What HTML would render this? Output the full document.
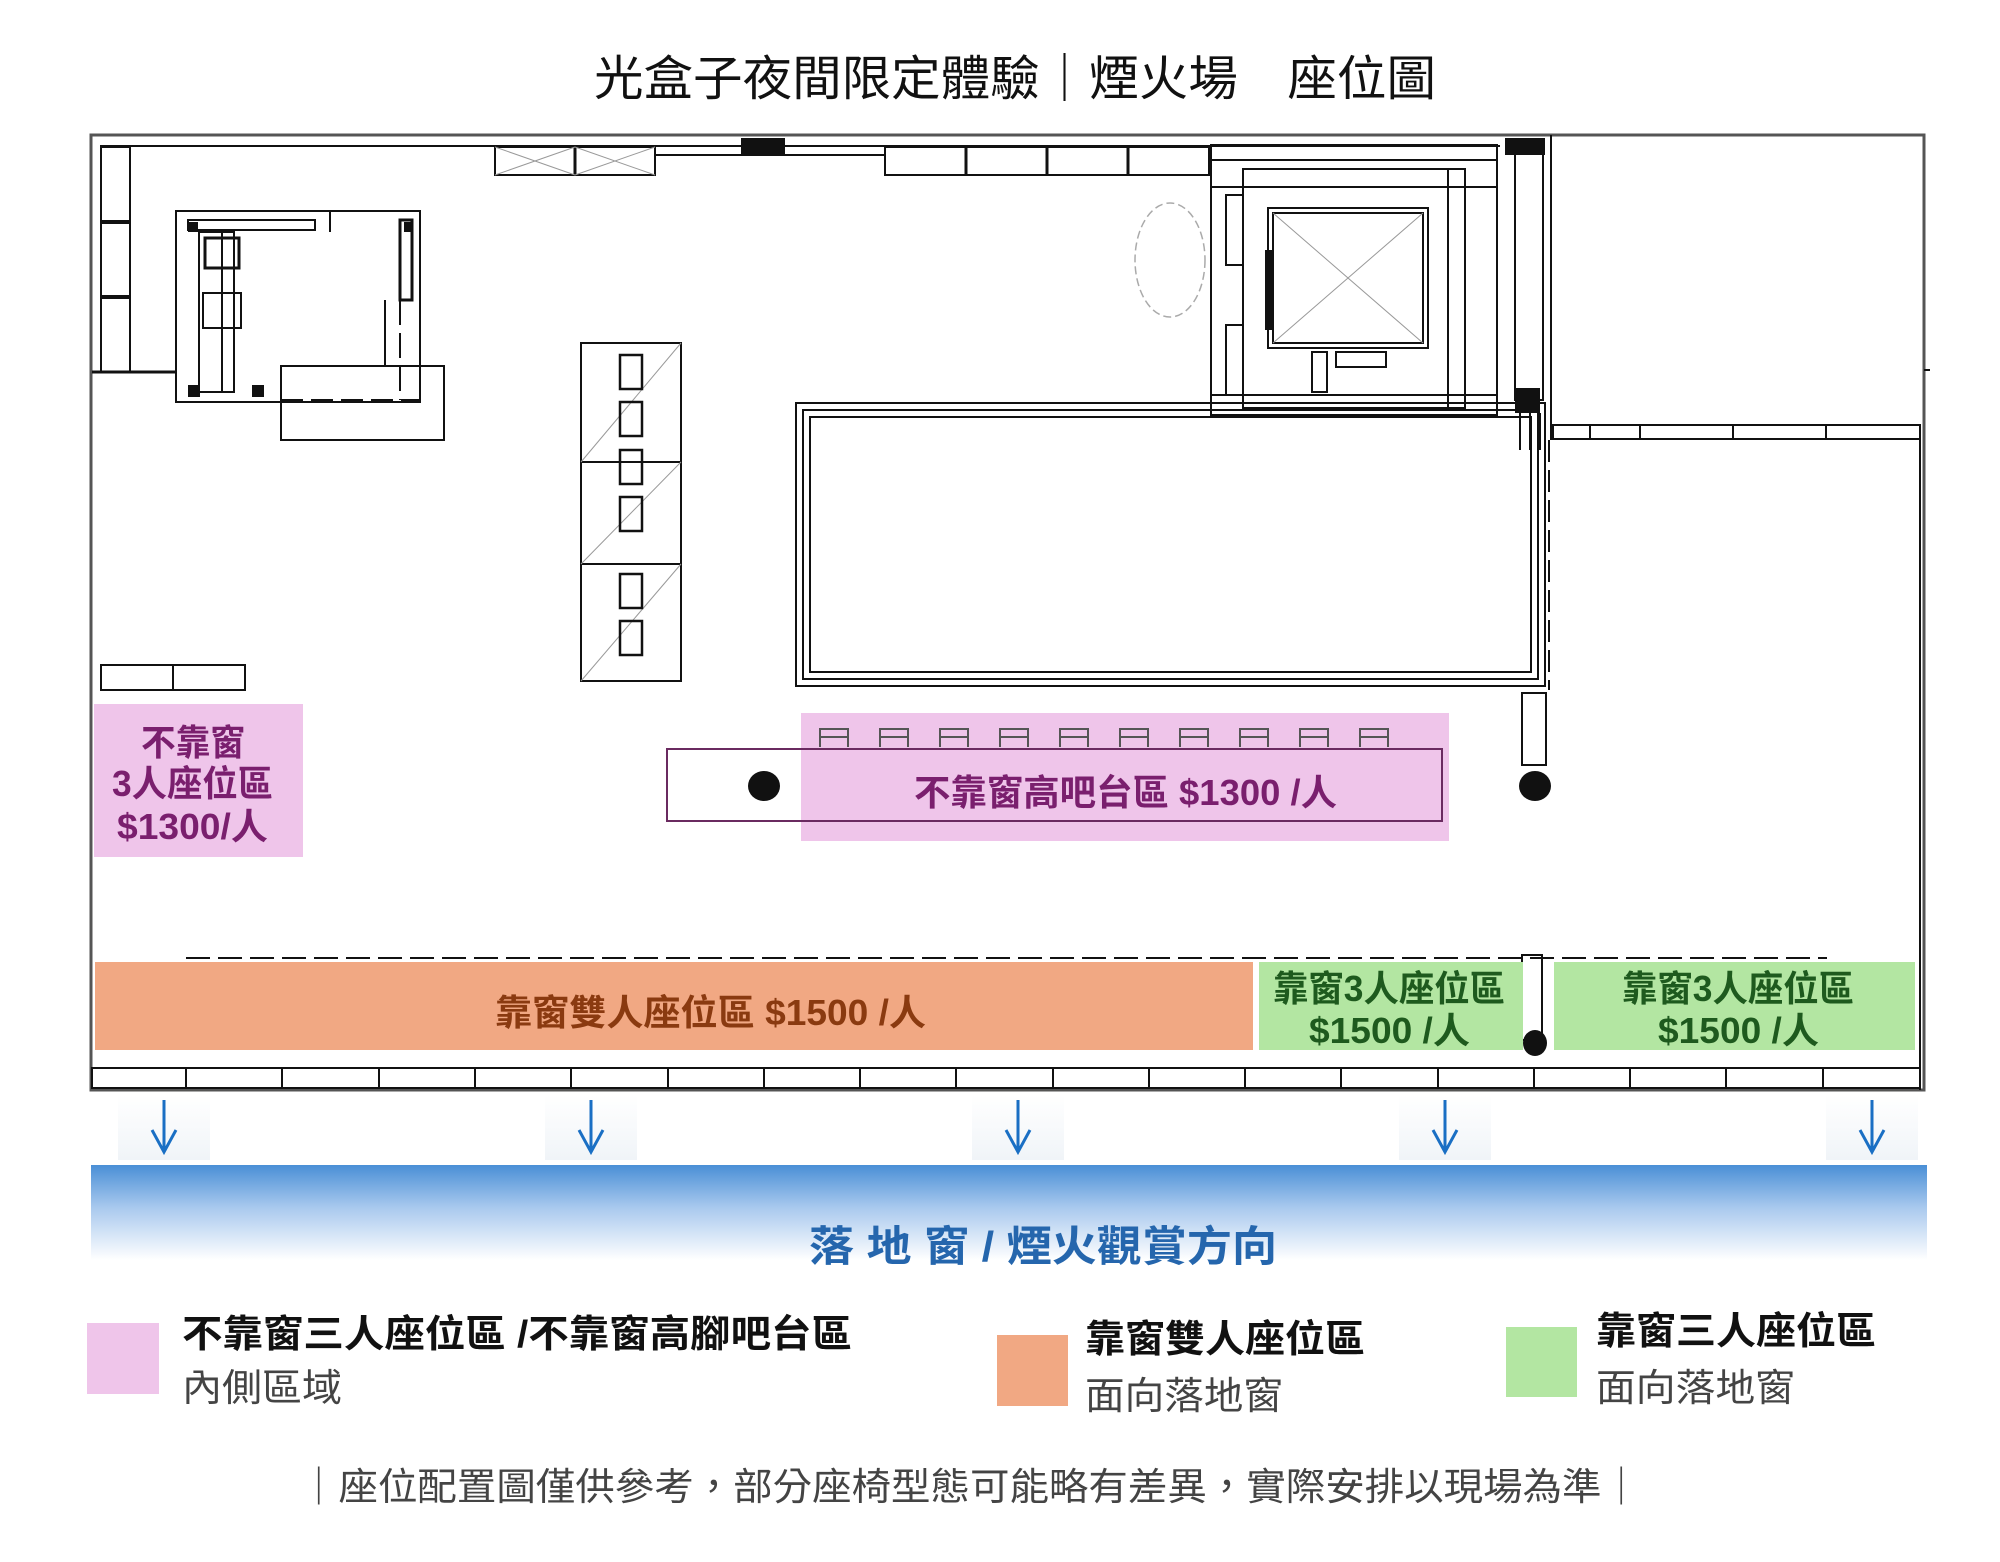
<!DOCTYPE html>
<html><head><meta charset="utf-8"><style>
html,body{margin:0;padding:0;background:#fff;}
svg{display:block}
text{font-family:"Liberation Sans","Noto Sans CJK TC",sans-serif;}
</style></head><body>
<svg width="2000" height="1562" viewBox="0 0 2000 1562" xmlns="http://www.w3.org/2000/svg">
<defs>
<linearGradient id="bg" x1="0" y1="0" x2="0" y2="1">
<stop offset="0" stop-color="#4a8fd6"/><stop offset="0.45" stop-color="#a9c9ee"/><stop offset="1" stop-color="#ffffff"/>
</linearGradient>
<linearGradient id="ag" x1="0" y1="0" x2="0" y2="1">
<stop offset="0" stop-color="#ffffff"/><stop offset="1" stop-color="#f0f4f8"/>
</linearGradient>
</defs>
<rect width="2000" height="1562" fill="#fff"/>

<!-- Title -->
<text x="594" y="95" font-size="48" fill="#111" textLength="842" lengthAdjust="spacingAndGlyphs">光盒子夜間限定體驗｜煙火場　座位圖</text>

<!-- Outer frame -->
<g fill="none" stroke="#111" stroke-width="2">
<rect x="91" y="135" width="1833" height="955" stroke="#555" stroke-width="3"/>
<line x1="100" y1="146" x2="1500" y2="146"/>
<line x1="1924" y1="370" x2="1930" y2="370"/>
<!-- left wall panels -->
<rect x="101" y="147" width="29" height="225"/>
<line x1="101" y1="222" x2="130" y2="222" stroke-width="4"/>
<line x1="101" y1="297" x2="130" y2="297" stroke-width="4"/>
<line x1="92" y1="372" x2="176" y2="372" stroke-width="3"/>
<!-- top windows -->
<rect x="495" y="147" width="160" height="28"/>
<line x1="575" y1="147" x2="575" y2="175" stroke-width="3"/>
<line x1="495" y1="147" x2="575" y2="175" stroke="#999" stroke-width="1"/>
<line x1="495" y1="175" x2="575" y2="147" stroke="#999" stroke-width="1"/>
<line x1="575" y1="147" x2="655" y2="175" stroke="#999" stroke-width="1"/>
<line x1="575" y1="175" x2="655" y2="147" stroke="#999" stroke-width="1"/>
<rect x="885" y="147" width="324" height="28"/>
<line x1="966" y1="147" x2="966" y2="175" stroke-width="3"/>
<line x1="1047" y1="147" x2="1047" y2="175" stroke-width="3"/>
<line x1="1128" y1="147" x2="1128" y2="175" stroke-width="3"/>
<line x1="655" y1="155" x2="885" y2="155"/>
<!-- kitchen -->
<rect x="176" y="211" width="244" height="191"/>
<rect x="188" y="220" width="127" height="10"/>
<rect x="199" y="232" width="35" height="160"/>
<rect x="205" y="238" width="34" height="30" stroke-width="3"/>
<rect x="203" y="293" width="38" height="35"/>
<line x1="222" y1="232" x2="222" y2="392"/>
<rect x="400" y="220" width="12" height="80" stroke-width="3"/>
<rect x="281" y="366" width="163" height="74"/>
<line x1="281" y1="400" x2="420" y2="400" stroke-dasharray="22 8"/>
<line x1="385" y1="300" x2="385" y2="366"/>
<line x1="400" y1="300" x2="400" y2="400" stroke-dasharray="25 8"/>
<line x1="330" y1="211" x2="330" y2="232"/>
<!-- table column -->
<rect x="581" y="343" width="100" height="338"/>
<line x1="581" y1="462" x2="681" y2="462"/>
<line x1="581" y1="564" x2="681" y2="564"/>
<line x1="581" y1="462" x2="681" y2="343" stroke="#999" stroke-width="1"/>
<line x1="581" y1="564" x2="681" y2="462" stroke="#999" stroke-width="1"/>
<line x1="581" y1="681" x2="681" y2="564" stroke="#999" stroke-width="1"/>
<rect x="620" y="355" width="22" height="34" stroke-width="2.5"/>
<rect x="620" y="402" width="22" height="34" stroke-width="2.5"/>
<rect x="620" y="450" width="22" height="34" stroke-width="2.5"/>
<rect x="620" y="497" width="22" height="34" stroke-width="2.5"/>
<rect x="620" y="574" width="22" height="34" stroke-width="2.5"/>
<rect x="620" y="621" width="22" height="34" stroke-width="2.5"/>
<!-- small rect left -->
<rect x="101" y="665" width="144" height="25"/>
<line x1="173" y1="665" x2="173" y2="690"/>
<!-- big double rect -->
<rect x="796" y="403" width="749" height="283"/>
<rect x="803" y="410" width="735" height="269"/>
<rect x="810" y="417" width="721" height="255"/>
<!-- dotted circle -->
<ellipse cx="1170" cy="260" rx="35" ry="57" stroke="#aaa" stroke-dasharray="8 4" stroke-width="1.5"/>
<!-- elevator -->
<rect x="1211" y="145" width="286" height="270"/>
<rect x="1211" y="160" width="286" height="27" />
<rect x="1243" y="169" width="222" height="239"/>
<rect x="1268" y="208" width="160" height="140"/>
<rect x="1273" y="213" width="150" height="130"/>
<line x1="1273" y1="213" x2="1423" y2="343" stroke="#999" stroke-width="1"/>
<line x1="1273" y1="343" x2="1423" y2="213" stroke="#999" stroke-width="1"/>
<rect x="1448" y="169" width="17" height="239"/>
<rect x="1226" y="195" width="17" height="70"/>
<rect x="1226" y="325" width="17" height="70"/>
<rect x="1312" y="352" width="15" height="40"/>
<rect x="1336" y="352" width="50" height="15"/>
<line x1="1211" y1="395" x2="1497" y2="395"/>
<rect x="1515" y="145" width="28" height="255"/>
<line x1="1551" y1="145" x2="1551" y2="440"/>
<line x1="1551" y1="135" x2="1551" y2="145"/>
<line x1="1520" y1="413" x2="1520" y2="450"/>
<line x1="1530" y1="413" x2="1530" y2="450"/>
<line x1="1540" y1="413" x2="1540" y2="450"/>
<!-- right section strip -->
<rect x="1553" y="425" width="367" height="14"/>
<line x1="1590" y1="425" x2="1590" y2="439"/>
<line x1="1640" y1="425" x2="1640" y2="439"/>
<line x1="1733" y1="425" x2="1733" y2="439"/>
<line x1="1826" y1="425" x2="1826" y2="439"/>
<line x1="1920" y1="440" x2="1920" y2="1090"/>
<!-- dashed vertical -->
<line x1="1549" y1="440" x2="1549" y2="690" stroke-dasharray="22 8"/>
<rect x="1522" y="693" width="24" height="72"/>
<!-- dashed horizontal -->
<line x1="186" y1="958" x2="1827" y2="958" stroke-dasharray="24 8"/>
<rect x="1522" y="955" width="20" height="85"/>
<!-- bar outline -->
<rect x="667" y="749" width="775" height="72"/>
<!-- bottom window strip -->
<rect x="92" y="1068" width="1828" height="20"/>
</g>
<g fill="#111">
<rect x="741" y="138" width="44" height="16"/>
<rect x="1505" y="138" width="40" height="17"/>
<rect x="1515" y="388" width="25" height="25"/>
<rect x="1265" y="250" width="8" height="80"/>
<rect x="188" y="222" width="10" height="10"/>
<rect x="188" y="385" width="12" height="12"/>
<rect x="252" y="385" width="12" height="12"/>
<rect x="404" y="222" width="9" height="10"/>
</g>
<!-- mullions -->
<g stroke="#111" stroke-width="2">
<line x1="186" y1="1068" x2="186" y2="1088"/><line x1="282" y1="1068" x2="282" y2="1088"/>
<line x1="379" y1="1068" x2="379" y2="1088"/><line x1="475" y1="1068" x2="475" y2="1088"/>
<line x1="571" y1="1068" x2="571" y2="1088"/><line x1="668" y1="1068" x2="668" y2="1088"/>
<line x1="764" y1="1068" x2="764" y2="1088"/><line x1="860" y1="1068" x2="860" y2="1088"/>
<line x1="956" y1="1068" x2="956" y2="1088"/><line x1="1053" y1="1068" x2="1053" y2="1088"/>
<line x1="1149" y1="1068" x2="1149" y2="1088"/><line x1="1245" y1="1068" x2="1245" y2="1088"/>
<line x1="1341" y1="1068" x2="1341" y2="1088"/><line x1="1438" y1="1068" x2="1438" y2="1088"/>
<line x1="1534" y1="1068" x2="1534" y2="1088"/><line x1="1630" y1="1068" x2="1630" y2="1088"/>
<line x1="1726" y1="1068" x2="1726" y2="1088"/><line x1="1823" y1="1068" x2="1823" y2="1088"/>
</g>

<!-- Pink zones -->
<rect x="94" y="704" width="209" height="153" fill="#efc5ea"/>
<rect x="801" y="713" width="648" height="128" fill="#efc5ea"/>
<rect x="667" y="749" width="775" height="72" fill="none" stroke="#6a2a60" stroke-width="2"/>
<g stroke="#555" stroke-width="2" fill="none">
<path d="M820 747 v-18 h28 v18 M820 737 h28"/>
<path d="M880 747 v-18 h28 v18 M880 737 h28"/>
<path d="M940 747 v-18 h28 v18 M940 737 h28"/>
<path d="M1000 747 v-18 h28 v18 M1000 737 h28"/>
<path d="M1060 747 v-18 h28 v18 M1060 737 h28"/>
<path d="M1120 747 v-18 h28 v18 M1120 737 h28"/>
<path d="M1180 747 v-18 h28 v18 M1180 737 h28"/>
<path d="M1240 747 v-18 h28 v18 M1240 737 h28"/>
<path d="M1300 747 v-18 h28 v18 M1300 737 h28"/>
<path d="M1360 747 v-18 h28 v18 M1360 737 h28"/>
</g>
<ellipse cx="764" cy="786" rx="16" ry="15" fill="#111"/>
<ellipse cx="1535" cy="786" rx="16" ry="15" fill="#111"/>
<ellipse cx="1535" cy="1043" rx="12" ry="13" fill="#111"/>
<text x="141" y="755" font-size="36" font-weight="bold" fill="#7a1f6e" textLength="104" lengthAdjust="spacingAndGlyphs">不靠窗</text>
<text x="112" y="796" font-size="36" font-weight="bold" fill="#7a1f6e" textLength="161" lengthAdjust="spacingAndGlyphs">3人座位區</text>
<text x="117" y="839" font-size="36" font-weight="bold" fill="#7a1f6e" textLength="151" lengthAdjust="spacingAndGlyphs">$1300/人</text>
<text x="914" y="805" font-size="36" font-weight="bold" fill="#7a1f6e" textLength="423" lengthAdjust="spacingAndGlyphs">不靠窗高吧台區  $1300 /人</text>

<!-- Orange & Green -->
<rect x="95" y="962" width="1158" height="88" fill="#f1a883"/>
<rect x="1259" y="962" width="264" height="88" fill="#b3e6a2"/>
<rect x="1554" y="962" width="361" height="88" fill="#b3e6a2"/>
<text x="495" y="1025" font-size="36" font-weight="bold" fill="#8a3a10" textLength="431" lengthAdjust="spacingAndGlyphs">靠窗雙人座位區   $1500 /人</text>
<text x="1273" y="1001" font-size="36" font-weight="bold" fill="#1e5a1e" textLength="232" lengthAdjust="spacingAndGlyphs">靠窗3人座位區</text>
<text x="1309" y="1043" font-size="36" font-weight="bold" fill="#1e5a1e" textLength="161" lengthAdjust="spacingAndGlyphs">$1500 /人</text>
<text x="1622" y="1001" font-size="36" font-weight="bold" fill="#1e5a1e" textLength="232" lengthAdjust="spacingAndGlyphs">靠窗3人座位區</text>
<text x="1658" y="1043" font-size="36" font-weight="bold" fill="#1e5a1e" textLength="161" lengthAdjust="spacingAndGlyphs">$1500 /人</text>

<!-- Arrows -->
<g>
<rect x="118" y="1095" width="92" height="65" fill="url(#ag)"/>
<rect x="545" y="1095" width="92" height="65" fill="url(#ag)"/>
<rect x="972" y="1095" width="92" height="65" fill="url(#ag)"/>
<rect x="1399" y="1095" width="92" height="65" fill="url(#ag)"/>
<rect x="1826" y="1095" width="92" height="65" fill="url(#ag)"/>
</g>
<g stroke="#1a6fc4" stroke-width="3" fill="none">
<path d="M164 1100 v52 M152 1130 l12 22 l12 -22"/>
<path d="M591 1100 v52 M579 1130 l12 22 l12 -22"/>
<path d="M1018 1100 v52 M1006 1130 l12 22 l12 -22"/>
<path d="M1445 1100 v52 M1433 1130 l12 22 l12 -22"/>
<path d="M1872 1100 v52 M1860 1130 l12 22 l12 -22"/>
</g>

<!-- Blue band -->
<rect x="91" y="1165" width="1836" height="95" fill="url(#bg)"/>
<text x="809" y="1261" font-size="42" font-weight="bold" fill="#2566ad" textLength="468" lengthAdjust="spacingAndGlyphs">落 地 窗 / 煙火觀賞方向</text>

<!-- Legend -->
<rect x="87" y="1323" width="72" height="71" fill="#efc5ea"/>
<text x="182" y="1347" font-size="38" font-weight="bold" fill="#111" textLength="670" lengthAdjust="spacingAndGlyphs">不靠窗三人座位區 /不靠窗高腳吧台區</text>
<text x="182" y="1401" font-size="38" fill="#444" textLength="160" lengthAdjust="spacingAndGlyphs">內側區域</text>
<rect x="997" y="1335" width="71" height="71" fill="#f1a883"/>
<text x="1085" y="1352" font-size="38" font-weight="bold" fill="#111" textLength="280" lengthAdjust="spacingAndGlyphs">靠窗雙人座位區</text>
<text x="1085" y="1409" font-size="38" fill="#444" textLength="198" lengthAdjust="spacingAndGlyphs">面向落地窗</text>
<rect x="1506" y="1327" width="71" height="70" fill="#b3e6a2"/>
<text x="1596" y="1344" font-size="38" font-weight="bold" fill="#111" textLength="280" lengthAdjust="spacingAndGlyphs">靠窗三人座位區</text>
<text x="1596" y="1401" font-size="38" fill="#444" textLength="199" lengthAdjust="spacingAndGlyphs">面向落地窗</text>

<!-- Footer -->
<text x="299" y="1500" font-size="38" fill="#444" textLength="1342" lengthAdjust="spacingAndGlyphs">｜座位配置圖僅供參考，部分座椅型態可能略有差異，實際安排以現場為準｜</text>
</svg>
</body></html>
